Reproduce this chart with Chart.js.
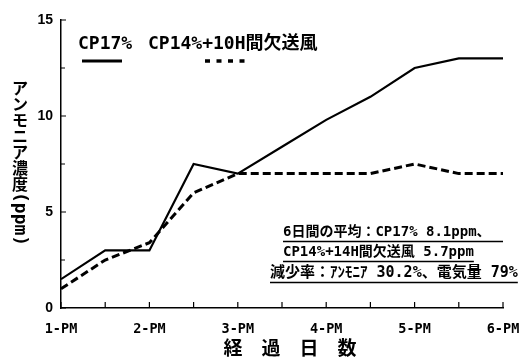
<!DOCTYPE html>
<html>
<head>
<meta charset="utf-8">
<script src="https://cdn.jsdelivr.net/npm/chart.js@4/dist/chart.umd.min.js"></script>
<style>
  html, body { margin: 0; padding: 0; background: #fff; }
  #wrap { width: 526px; height: 358px; }
</style>
</head>
<body>
<div id="wrap"><canvas id="chart" width="526" height="358"></canvas></div>
<script>
// 経過日数 (half-day steps) and ammonia concentration (ppm)
const days = [1, 1.5, 2, 2.5, 3, 3.5, 4, 4.5, 5, 5.5, 6];
const cp17 = [1.5, 3, 3, 7.5, 7, 8.4, 9.8, 11, 12.5, 13, 13];
const cp14 = [1, 2.5, 3.4, 6, 7, 7, 7, 7, 7.5, 7, 7];

const seriesNames = ["CP17%", "CP14%+10H間欠送風"];
const yTicks = [0, 5, 10, 15];
const xTickSuffix = "-PM";
const yTitle = ["ア", "ン", "モ", "ニ", "ア", "濃", "度"];
const yTitleUnit = "(ppm)";
const xTitle = "経　過　日　数";
const notes = [
    "6日間の平均：CP17% 8.1ppm、",
    "CP14%+14H間欠送風 5.7ppm",
    "減少率：ｱﾝﾓﾆｱ 30.2%、電気量 79%",
];

const MONO = "'DejaVu Sans Mono', 'Noto Sans CJK JP', sans-serif";
const CJK = "'Noto Sans CJK JP', sans-serif";

const toPoints = (ys) => ys.map((y, i) => ({ x: days[i], y: y }));

const decor = {
    id: "decor",
    afterDraw(chart) {
        const ctx = chart.ctx;
        const xs = chart.scales.x;
        const ys = chart.scales.y;
        const area = chart.chartArea;
        ctx.save();
        ctx.strokeStyle = "#000";
        ctx.fillStyle = "#000";

        // inward tick marks
        ctx.lineWidth = 1.2;
        ctx.beginPath();
        days.forEach((d) => {
            const px = xs.getPixelForValue(d);
            ctx.moveTo(px, area.bottom);
            ctx.lineTo(px, area.bottom - 6);
        });
        for (let v = 0; v <= 15; v += 2.5) {
            const py = ys.getPixelForValue(v);
            ctx.moveTo(area.left, py);
            ctx.lineTo(area.left + (v % 5 === 0 ? 5 : 4), py);
        }
        ctx.stroke();

        // legend
        ctx.font = "bold 18px " + MONO;
        ctx.textBaseline = "middle";
        ctx.textAlign = "left";
        ctx.fillText(seriesNames[0], 78, 44);
        ctx.fillText(seriesNames[1], 148, 44);
        ctx.lineWidth = 3;
        ctx.beginPath();
        ctx.moveTo(82, 61);
        ctx.lineTo(122, 61);
        ctx.stroke();
        ctx.setLineDash([5, 6.5]);
        ctx.lineWidth = 3.5;
        ctx.beginPath();
        ctx.moveTo(205, 61);
        ctx.lineTo(247, 61);
        ctx.stroke();
        ctx.setLineDash([]);

        // y title, vertical writing
        ctx.font = "bold 16px " + CJK;
        ctx.textAlign = "center";
        yTitle.forEach((ch, i) => {
            ctx.fillText(ch, 20, 88 + i * 16);
        });
        ctx.save();
        ctx.translate(20, 192);
        ctx.rotate(Math.PI / 2);
        ctx.font = "bold 18px " + MONO;
        ctx.textAlign = "left";
        ctx.fillText(yTitleUnit, 0, 0);
        ctx.restore();

        // x title
        ctx.font = "bold 19px " + CJK;
        ctx.textAlign = "center";
        ctx.fillText(xTitle, 290, 348);

        // notes with underline
        ctx.textAlign = "left";
        ctx.lineWidth = 1.3;
        const rows = [
            { x: 283, y: 232, size: 14, ul: 220 },
            { x: 283, y: 252, size: 14, ul: 0 },
            { x: 270, y: 273, size: 15, ul: 0 },
        ];
        rows.forEach((r, i) => {
            ctx.font = "bold " + r.size + "px " + MONO;
            ctx.fillText(notes[i], r.x, r.y);
            const w = r.ul || ctx.measureText(notes[i]).width;
            ctx.beginPath();
            ctx.moveTo(r.x, r.y + 9.5);
            ctx.lineTo(r.x + w, r.y + 9.5);
            ctx.stroke();
        });
        ctx.restore();
    },
};

new Chart(document.getElementById("chart"), {
    type: "line",
    data: {
        datasets: [
            {
                label: seriesNames[0],
                data: toPoints(cp17),
                borderColor: "#000",
                borderWidth: 2.2,
                pointRadius: 0,
                tension: 0,
            },
            {
                label: seriesNames[1],
                data: toPoints(cp14),
                borderColor: "#000",
                borderWidth: 3,
                borderDash: [8, 4],
                pointRadius: 0,
                tension: 0,
            },
        ],
    },
    options: {
        responsive: false,
        animation: false,
        devicePixelRatio: 1,
        layout: {
            padding: { top: 20, right: 23, left: 0, bottom: 0 },
        },
        plugins: {
            legend: { display: false },
            tooltip: { enabled: false },
        },
        scales: {
            x: {
                type: "linear",
                min: 1,
                max: 6,
                afterFit: (scale) => {
                    scale.height = 50;
                    scale.paddingLeft = 0;
                    scale.paddingRight = 0;
                },
                grid: { display: false, drawTicks: false },
                border: { display: true, color: "#000", width: 1.5 },
                ticks: {
                    stepSize: 1,
                    color: "#000",
                    padding: 13,
                    font: { family: MONO, size: 13.5, weight: "bold" },
                    callback: (v) => v + xTickSuffix,
                },
            },
            y: {
                min: 0,
                max: 15,
                afterFit: (scale) => {
                    scale.width = 61;
                    scale.paddingTop = 0;
                    scale.paddingBottom = 0;
                },
                afterBuildTicks: (scale) => {
                    scale.ticks = yTicks.map((v) => ({ value: v }));
                },
                grid: { display: false, drawTicks: false },
                border: { display: true, color: "#000", width: 1.5 },
                ticks: {
                    color: "#000",
                    padding: 8,
                    font: { family: "'Liberation Sans', Arial, sans-serif", size: 14, weight: "bold" },
                },
            },
        },
    },
    plugins: [decor],
});
</script>
</body>
</html>
